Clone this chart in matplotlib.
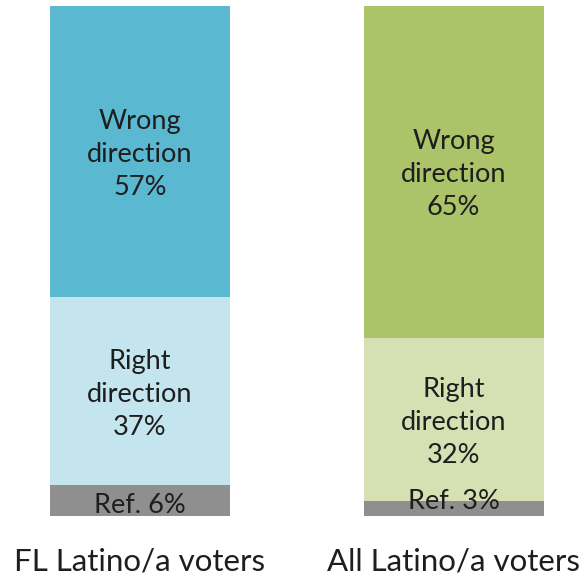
import matplotlib
matplotlib.use("Agg")
import matplotlib.pyplot as plt

groups = ["FL Latino/a voters", "All Latino/a voters"]
ref_vals = [6, 3]
right_vals = [37, 32]
wrong_vals = [57, 65]

colors_wrong = ["#5AB8D1", "#ABC46A"]
colors_right = ["#C4E4EE", "#D5E1B3"]
color_ref = "#8F8F8F"

plt.rcParams['font.family'] = ['Lato', 'DejaVu Sans']

W, H = 585, 575
fig = plt.figure(figsize=(W / 100, H / 100), dpi=100)
ppu_x = 313.5
left_c = 140
ax = fig.add_axes([0, (H - 516) / H, 1, 510 / H])
ax.set_xlim(-left_c / ppu_x, (W - left_c) / ppu_x)
ax.set_ylim(0, 100)
ax.axis("off")

x = [0, 1]
bw = 180 / ppu_x
ax.bar(x, ref_vals, width=bw, color=color_ref)
ax.bar(x, right_vals, width=bw, bottom=ref_vals, color=colors_right)
b2 = [r + g for r, g in zip(ref_vals, right_vals)]
ax.bar(x, wrong_vals, width=bw, bottom=b2, color=colors_wrong)

fs = 19.5
tc = "#1e1e1e"
ls = 1.4
dy = -0.6
ref_y = [0.6, 1.4]
for i in range(2):
    ax.text(x[i], ref_y[i], f"Ref. {ref_vals[i]}%", ha="center", va="baseline",
            fontsize=fs, color=tc)
    ax.text(x[i], ref_vals[i] + right_vals[i] / 2 + dy, f"Right\ndirection\n{right_vals[i]}%",
            ha="center", va="center", fontsize=fs, color=tc, linespacing=ls)
    ax.text(x[i], b2[i] + wrong_vals[i] / 2 + dy, f"Wrong\ndirection\n{wrong_vals[i]}%",
            ha="center", va="center", fontsize=fs, color=tc, linespacing=ls)
    ax.text(x[i], -10.6, groups[i], ha="center", va="baseline", fontsize=22.5,
            color=tc, clip_on=False)

fig.savefig("out.png", dpi=100)
